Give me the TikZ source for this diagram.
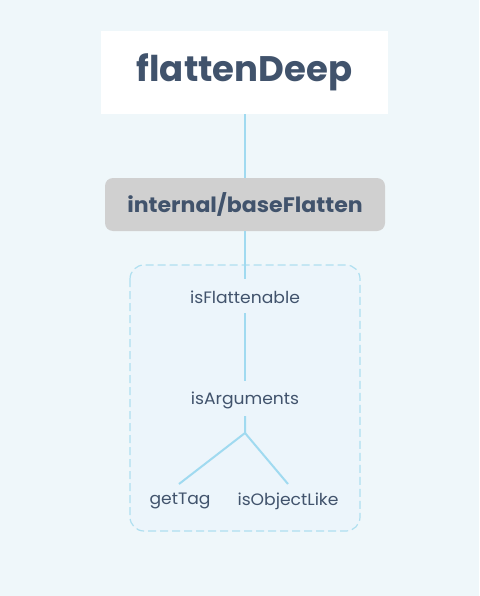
\documentclass[tikz,border=0pt]{standalone}
\usepackage{fontspec}
\setmainfont{Poppins}[FakeStretch=1.04]
\newfontfamily\popb{Poppins Bold}
\newfontfamily\popbw{Poppins Bold}[FakeStretch=1.05]
\usetikzlibrary{positioning}
\definecolor{bg}{RGB}{239,247,250}
\definecolor{txt}{RGB}{65,83,108}
\definecolor{ln}{RGB}{160,218,240}
\definecolor{dashc}{RGB}{175,223,240}
\definecolor{grayfill}{RGB}{208,208,208}
\definecolor{boxfill}{RGB}{236,245,251}
\tikzset{
  conn/.style={draw=ln, line width=2pt},
  leaf/.style={text=txt, font=\fontsize{16.5}{20}\selectfont, inner sep=0pt},
}
\begin{document}
\begin{tikzpicture}[x=1pt,y=-1pt]
\fill[bg] (0,0) rectangle (479,596);
\useasboundingbox (0,0) rectangle (479,596);
% dashed group
\draw[draw=dashc, fill=boxfill, dash pattern=on 8pt off 4pt, line width=1.2pt, rounded corners=14pt] (130,265) rectangle (360,531);
% top box
\node[fill=white, minimum width=287pt, minimum height=83pt, inner sep=0pt, text=txt, font=\popb\fontsize{35.5}{42}\selectfont] (root) at (244.5,72.5) {flattenDeep};
\node[fill=grayfill, rounded corners=8pt, minimum width=280pt, minimum height=53pt, inner sep=0pt, text=txt, font=\popbw\fontsize{21}{25}\selectfont] (base) at (245,204.5) {internal/baseFlatten};
\node[leaf] (flat) at (245,297) {isFlattenable};
\node[leaf] (args) at (245,400) {isArguments};
\node[leaf] (tag) at (180,501) {getTag};
\node[leaf] (obj) at (288,501) {isObjectLike};
\coordinate (fork) at (245,433);
\coordinate (tagtop) at (179,484);
\coordinate (objtop) at (288,484);
\coordinate (flattop) at (245,279);
\coordinate (flatbot) at (245,313);
\coordinate (argstop) at (245,381);
\coordinate (argsbot) at (245,416);
\draw[conn] (root.south -| base.north) -- (base.north);
\draw[conn] (base.south) -- (flattop);
\draw[conn] (flatbot) -- (argstop);
\draw[conn] (argsbot) -- (fork) -- (tagtop);
\draw[conn] (fork) -- (objtop);
\end{tikzpicture}
\end{document}
